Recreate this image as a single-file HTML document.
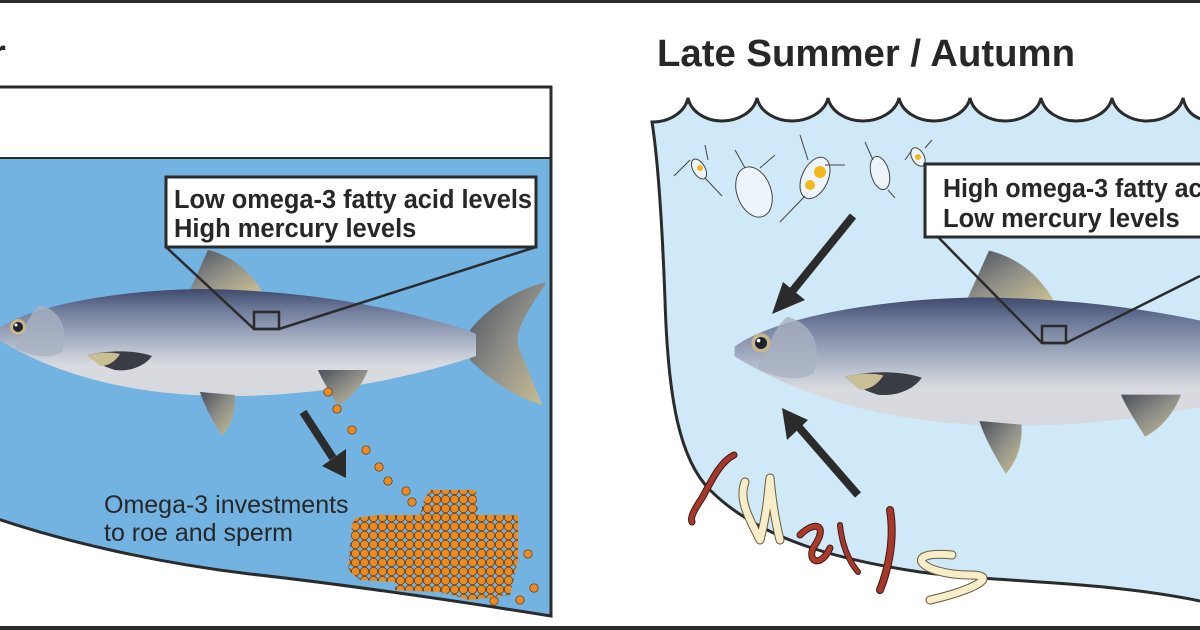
<!DOCTYPE html>
<html><head><meta charset="utf-8"><style>
html,body{margin:0;padding:0;background:#fff;}
svg{display:block;}
text{font-family:"Liberation Sans",Arial,sans-serif;fill:#272727;}
</style></head><body>
<svg width="1200" height="630" viewBox="0 0 1200 630" xmlns="http://www.w3.org/2000/svg">
<defs>
<linearGradient id="fb" x1="0" y1="0" x2="0" y2="1">
<stop offset="0" stop-color="#3f4a6c"/>
<stop offset="0.18" stop-color="#6c7898"/>
<stop offset="0.45" stop-color="#a2abc0"/>
<stop offset="0.62" stop-color="#c7ccd6"/>
<stop offset="0.72" stop-color="#d9dbe0"/>
<stop offset="1" stop-color="#d6d8dd"/>
</linearGradient>
<linearGradient id="fin" x1="0" y1="0" x2="1" y2="1">
<stop offset="0" stop-color="#4a4f5a"/>
<stop offset="0.5" stop-color="#8f8f88"/>
<stop offset="1" stop-color="#cbbf92"/>
</linearGradient>
<pattern id="roe" width="9" height="9" patternUnits="userSpaceOnUse">
<circle cx="4.5" cy="4.5" r="4.2" fill="#f08a1c" stroke="#5a3410" stroke-width="0.7"/>
</pattern>
<g id="fish">
<path d="M190,290 L208,250 C230,255 250,270 262,292 Z" fill="url(#fin)"/>
<path d="M330,312 C340,303 355,303 365,310 L360,316 Z" fill="#7a7a70"/>
<path d="M470,330 C490,305 520,288 547,282 C528,310 515,330 518,345 C525,365 535,385 542,405 C512,396 488,378 470,360 Z" fill="url(#fin)"/>
<path d="M-4,330 C30,305 120,290 200,289 C300,290 380,305 440,322 C455,326 468,330 476,334 L476,356 C420,375 330,396 230,396 C140,396 60,378 -4,338 Z" fill="url(#fb)"/>
<path d="M200,392 L235,395 C236,410 232,425 222,436 C212,420 204,405 200,392 Z" fill="url(#fin)"/>
<path d="M318,370 L368,370 C362,385 352,398 338,405 C330,392 322,380 318,370 Z" fill="url(#fin)"/>
<path d="M88,355 C110,350 135,350 152,356 C145,366 130,372 115,370 C102,366 94,361 88,355 Z" fill="#3a3d44"/>
<path d="M88,355 C100,352 112,352 120,354 C115,362 108,366 100,366 Z" fill="#c9bf95"/>
<path d="M40,305 C60,310 70,330 62,352 C50,360 30,356 15,348 C25,330 28,315 40,305 Z" fill="#a9b1c2" opacity="0.8"/>
<circle cx="18" cy="327" r="8" fill="#c8b887"/>
<circle cx="18" cy="327" r="5" fill="#1e2233"/>
<circle cx="16" cy="325" r="1.5" fill="#fff"/>
</g>
</defs>

<rect x="0" y="0" width="1200" height="3" fill="#2b2b2b"/>
<rect x="0" y="626" width="1200" height="4" fill="#2b2b2b"/>

<!-- Left panel -->
<text x="-9" y="66" font-size="38" font-weight="bold">r</text>
<path d="M-5,87 L551,87 L551,616 C450,600 350,585 250,574 C150,562 60,540 -5,518 Z" fill="#fff"/>
<path d="M-5,159 L551,159 L551,616 C450,600 350,585 250,574 C150,562 60,540 -5,518 Z" fill="#73b3e2"/>
<path d="M-5,87 L551,87 L551,616 C450,600 350,585 250,574 C150,562 60,540 -5,518" fill="none" stroke="#2b2b2b" stroke-width="3"/>
<line x1="-5" y1="158" x2="551" y2="158" stroke="#2b2b2b" stroke-width="2"/>

<use href="#fish"/>

<rect x="166" y="177" width="370" height="70" fill="#fff" stroke="#2b2b2b" stroke-width="3"/>
<text x="174" y="208" font-size="25.5" font-weight="bold" textLength="358" lengthAdjust="spacingAndGlyphs">Low omega-3 fatty acid levels</text>
<text x="174" y="237" font-size="25.5" font-weight="bold">High mercury levels</text>
<rect x="254" y="312" width="25" height="17" fill="none" stroke="#2b2b2b" stroke-width="2.5"/>
<polyline points="166,247 254,329 279,329 536,247" fill="none" stroke="#2b2b2b" stroke-width="2.5"/>

<line x1="303" y1="412" x2="333" y2="458" stroke="#2b2b2b" stroke-width="8"/>
<polygon points="346,478 322,466 346,449" fill="#2b2b2b"/>

<text x="104" y="513" font-size="25" fill="#2b2b2b">Omega-3 investments</text>
<text x="104" y="541" font-size="25" fill="#2b2b2b">to roe and sperm</text>

<g fill="#f08a1c" stroke="#5a3410" stroke-width="0.7">
<circle cx="328" cy="392" r="4.2"/><circle cx="337" cy="409" r="4.2"/><circle cx="352" cy="430" r="4.2"/>
<circle cx="366" cy="450" r="4.2"/><circle cx="379" cy="467" r="4.2"/><circle cx="388" cy="481" r="4.2"/>
<circle cx="406" cy="491" r="4.2"/><circle cx="412" cy="502" r="4.2"/>
<circle cx="528" cy="554" r="4.2"/><circle cx="534" cy="588" r="4.2"/><circle cx="520" cy="600" r="4.2"/><circle cx="494" cy="601" r="4.2"/>
</g>
<path d="M423,502 L430,490 L476,490 L478,515 L518,515 L518,560 L510,595 L470,600 L440,592 L395,590 L395,582 L360,580 L348,570 L352,525 L355,518 L380,515 L420,515 Z" fill="url(#roe)"/>

<!-- Right panel -->
<text x="657" y="66" font-size="38" font-weight="bold" textLength="418" lengthAdjust="spacingAndGlyphs">Late Summer / Autumn</text>
<path d="M652,122 C670,122 685,112 688,98 C691,112 706,121 722,121 C738,121 754,112 757,98 C760,112 776,121 792,121 C808,121 825,112 828,98 C831,112 847,121 863,121 C879,121 896,112 899,98 C902,112 918,121 934,121 C950,121 967,112 970,98 C973,112 989,121 1005,121 C1021,121 1038,112 1041,98 C1044,112 1060,121 1076,121 C1092,121 1109,112 1112,98 C1115,112 1131,121 1147,121 C1163,121 1180,112 1183,98 C1186,112 1195,118 1205,120 L1205,602 C1100,580 1000,583 920,572 C840,560 760,540 710,490 C680,460 668,400 665,300 C662,220 658,160 652,122 Z" fill="#cfe9f9" stroke="#2b2b2b" stroke-width="3"/>

<g stroke="#444" stroke-width="1" fill="#eef5fa">
<ellipse cx="699" cy="169" rx="6" ry="11" transform="rotate(-30 699 169)"/>
<ellipse cx="754" cy="192" rx="17" ry="26" transform="rotate(-20 754 192)"/>
<ellipse cx="815" cy="178" rx="13" ry="22" transform="rotate(25 815 178)"/>
<ellipse cx="880" cy="173" rx="9" ry="17" transform="rotate(-15 880 173)"/>
<ellipse cx="918" cy="157" rx="6" ry="10" transform="rotate(-30 918 157)"/>
<path d="M690,160 L674,176 M708,160 L705,145 M705,178 L722,196 M745,168 L735,150 M760,168 L775,155 M808,160 L800,135 M825,165 L845,165 M805,196 L780,222 M873,160 L865,142 M888,190 L895,198 M912,150 L905,160 M925,148 L932,140" fill="none"/>
</g>
<g fill="#f3b81a"><circle cx="700" cy="168" r="3"/><circle cx="820" cy="172" r="6"/><circle cx="810" cy="185" r="5"/><circle cx="918" cy="157" r="3"/></g>

<use href="#fish" transform="translate(761,343) scale(1.2) translate(-18,-327)"/>

<rect x="925" y="164" width="290" height="73" fill="#fff" stroke="#2b2b2b" stroke-width="3"/>
<text x="943" y="197" font-size="25.5" font-weight="bold" textLength="358" lengthAdjust="spacingAndGlyphs">High omega-3 fatty acid levels</text>
<text x="943" y="227" font-size="25.5" font-weight="bold">Low mercury levels</text>
<rect x="1042" y="326" width="24" height="17" fill="none" stroke="#2b2b2b" stroke-width="2.5"/>
<polyline points="938,237 1042,343 1066,343 1200,276" fill="none" stroke="#2b2b2b" stroke-width="2.5"/>

<line x1="853" y1="216" x2="790" y2="294" stroke="#2b2b2b" stroke-width="8"/>
<polygon points="772,314 783,282 805,300" fill="#2b2b2b"/>
<line x1="858" y1="495" x2="797" y2="425" stroke="#2b2b2b" stroke-width="8"/>
<polygon points="782,408 787,440 808,420" fill="#2b2b2b"/>

<g fill="none" stroke-linecap="round">
<path d="M734,455 C720,462 712,480 702,498 C694,510 690,518 692,522" stroke="#3a1a14" stroke-width="7"/>
<path d="M734,455 C720,462 712,480 702,498 C694,510 690,518 692,522" stroke="#a8372a" stroke-width="5"/>
<path d="M745,482 C738,500 750,520 760,540 M760,540 C768,510 768,490 770,478 M770,478 C772,500 775,520 780,540" stroke="#6a5a3a" stroke-width="9"/>
<path d="M745,482 C738,500 750,520 760,540 M760,540 C768,510 768,490 770,478 M770,478 C772,500 775,520 780,540" stroke="#f7edc8" stroke-width="7"/>
<path d="M800,535 C815,520 828,525 815,545 C805,560 820,570 830,548" stroke="#3a1a14" stroke-width="7"/>
<path d="M800,535 C815,520 828,525 815,545 C805,560 820,570 830,548" stroke="#b03a2a" stroke-width="5"/>
<path d="M840,525 C842,545 848,560 858,572" stroke="#3a1a14" stroke-width="6"/>
<path d="M840,525 C842,545 848,560 858,572" stroke="#a8372a" stroke-width="4"/>
<path d="M890,510 C895,540 888,570 880,590" stroke="#3a1a14" stroke-width="8"/>
<path d="M890,510 C895,540 888,570 880,590" stroke="#a8372a" stroke-width="6"/>
<path d="M952,555 C900,550 920,575 970,575 C1000,575 975,590 930,600" stroke="#6a5a3a" stroke-width="9"/>
<path d="M952,555 C900,550 920,575 970,575 C1000,575 975,590 930,600" stroke="#f7edc8" stroke-width="7"/>
</g>
</svg>
</body></html>
